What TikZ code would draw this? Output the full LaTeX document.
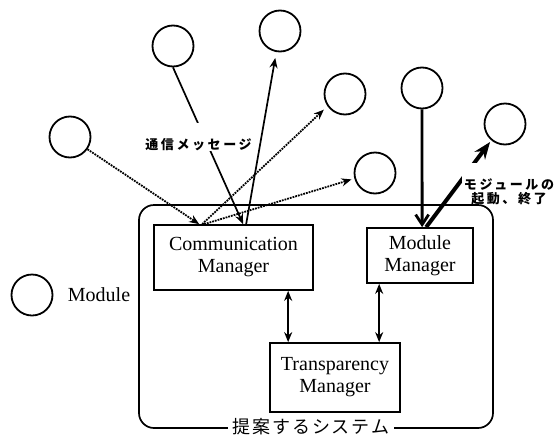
\documentclass[tikz,border=0pt]{standalone}
\usepackage{fontspec}
\setmainfont{Liberation Serif}
\newfontfamily\jpfont{Noto Sans CJK JP}
\usetikzlibrary{arrows.meta,positioning}
\tikzset{>={Stealth[length=10pt,width=8pt]},
  module/.style={draw,circle,line width=1.8pt,minimum size=41pt,inner sep=0pt},
  manager/.style={draw,line width=1.7pt,align=center,font=\fontsize{20}{22}\selectfont},
  msg/.style={densely dotted,line width=1.8pt},
  link/.style={line width=1.7pt},
  jplabel/.style={fill=white,align=center,inner xsep=1pt,inner ysep=0pt,
    font=\jpfont\bfseries\fontsize{13}{14}\selectfont\addfontfeature{LetterSpace=20}}
}

\begin{document}
\begin{tikzpicture}[x=1pt,y=-1pt]
  \useasboundingbox (0,0) rectangle (556,434);
  % modules
  \node[module] (A) at (173,46) {};
  \node[module] (B) at (280,31) {};
  \node[module] (C) at (345,94) {};
  \node[module] (D) at (422,88) {};
  \node[module] (E) at (505,124) {};
  \node[module] (F) at (70,137) {};
  \node[module] (G) at (375,173) {};
  % legend
  \node[module] (leg) at (32,295) {};
  \node[right=11pt of leg,font=\fontsize{20}{22}\selectfont] (legtxt) {Module};
  % managers
  \node[manager,minimum width=159pt,minimum height=65pt] (comm) at (233.5,257.5) {Communication\\Manager};
  \node[manager,minimum width=106pt,minimum height=55pt] (mm) at (420,255.5) {Module\\Manager};
  \node[manager,minimum width=130pt,minimum height=69pt] (tm) at (335,377.5) {Transparency\\Manager};
  % messages
  \draw[msg,->] (F.-35) -- ([xshift=46pt]comm.north west);
  \draw[link,->] (A.south) -- ([xshift=90pt]comm.north west);
  \draw[link,->,shorten >=6pt] ([xshift=93pt]comm.north west) -- (B.-100);
  \draw[msg,->,shorten >=5pt] ([xshift=49pt]comm.north west) -- (C.215);
  \draw[msg,->,shorten >=3pt] ([xshift=51pt]comm.north west) -- (G.195);
  % start and stop of modules
  \draw[line width=2.8pt,-{Straight Barb[length=10pt,width=13pt]}] (D.south) -- ([xshift=56pt]mm.north west);
  \draw[line width=4pt,-{Stealth[length=17pt,width=13pt]},shorten >=2pt] ([xshift=60pt]mm.north west) -- (E.230);
  \draw[link,<->] ([xshift=135pt]comm.south west) -- ([xshift=19pt]tm.north west);
  \draw[link,<->] ([xshift=13pt]mm.south west) -- ([xshift=110pt]tm.north west);
  % labels
  \node[jplabel,anchor=north,text width=107pt] (msglbl) at (198.5,123) {\rule{0pt}{26.5pt}通信メッセージ};
  \node[jplabel,anchor=north,text width=92pt] (ctrllbl) at (509,163) {\rule{0pt}{26.5pt}モジュールの\\起動、終了};
  % system frame
  \draw[link,rounded corners=15pt] (139,205) rectangle (493,428);
  \node[fill=white,inner xsep=5pt,inner ysep=1pt,
    font=\jpfont\fontsize{18}{20}\selectfont\addfontfeature{LetterSpace=10}] (sys) at (311,427) {提案するシステム};
\end{tikzpicture}
\end{document}
